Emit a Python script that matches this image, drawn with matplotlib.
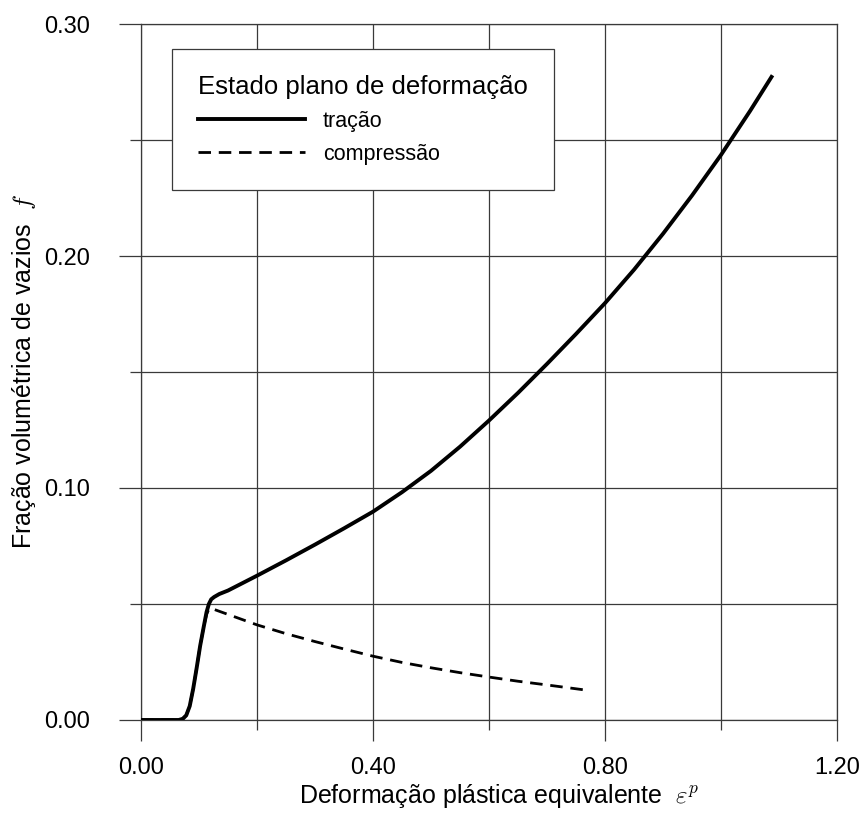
import numpy as np
import matplotlib
matplotlib.use("Agg")
import matplotlib.pyplot as plt
from matplotlib.ticker import MultipleLocator, FormatStrFormatter

plt.rcParams['font.family'] = ['Liberation Sans', 'DejaVu Sans']
plt.rcParams['mathtext.fontset'] = 'cm'

# tração (solid curve)
tracao_x = [0.0, 0.065, 0.072, 0.078, 0.084, 0.090, 0.096, 0.102, 0.108, 0.113,
            0.117, 0.121, 0.126, 0.135, 0.15, 0.2, 0.25, 0.3, 0.35, 0.4, 0.45,
            0.5, 0.55, 0.6, 0.65, 0.7, 0.75, 0.8, 0.85, 0.9, 0.95, 1.0, 1.05, 1.087]
tracao_y = [0.0, 0.0, 0.0005, 0.002, 0.006, 0.0135, 0.0225, 0.032, 0.040, 0.0465,
            0.050, 0.052, 0.053, 0.0543, 0.0558, 0.0622, 0.0688, 0.0756, 0.0826,
            0.0898, 0.0982, 0.1074, 0.1178, 0.1291, 0.1410, 0.1535, 0.1664, 0.1797,
            0.1941, 0.2096, 0.2261, 0.2436, 0.2625, 0.2772]

# compressão (dashed curve)
compressao_x = [0.0, 0.065, 0.072, 0.078, 0.084, 0.090, 0.096, 0.102, 0.108, 0.113,
                0.117, 0.12, 0.15, 0.2, 0.25, 0.3, 0.35, 0.4, 0.45, 0.5, 0.55,
                0.6, 0.65, 0.7, 0.7695]
compressao_y = [0.0, 0.0, 0.0005, 0.002, 0.006, 0.0135, 0.0225, 0.032, 0.040, 0.0455,
                0.0478, 0.0482, 0.0455, 0.041, 0.0372, 0.0338, 0.0306, 0.0275, 0.0248,
                0.0225, 0.0204, 0.0185, 0.0167, 0.0151, 0.0128]

fig = plt.figure(figsize=(8.64, 8.14), dpi=100)
ax = fig.add_axes([0.1632, 0.1155, 0.8056, 0.855])

ax.plot(tracao_x, tracao_y, color='black', lw=2.8, label='tração', zorder=3)
ax.plot(compressao_x, compressao_y, color='black', lw=2.0, dashes=(4.5, 2.8),
        label='compressão', zorder=3)

ax.set_xlim(0, 1.2)
ax.set_ylim(0, 0.30)
ax.xaxis.set_major_locator(MultipleLocator(0.4))
ax.xaxis.set_minor_locator(MultipleLocator(0.2))
ax.yaxis.set_major_locator(MultipleLocator(0.1))
ax.yaxis.set_minor_locator(MultipleLocator(0.05))
ax.xaxis.set_major_formatter(FormatStrFormatter('%.2f'))
ax.yaxis.set_major_formatter(FormatStrFormatter('%.2f'))

gc = '#3a3a3a'
ax.grid(True, which='both', color=gc, lw=0.9, zorder=1)
for s in ax.spines.values():
    s.set_color(gc)
    s.set_linewidth(0.9)
ax.tick_params(which='both', direction='out', color=gc, width=0.9, labelsize=17)
ax.tick_params(axis='x', which='major', length=15, pad=12)
ax.tick_params(axis='x', which='minor', length=7)
ax.tick_params(axis='y', which='major', length=16, pad=21)
ax.tick_params(axis='y', which='minor', length=8)

ax.set_xlabel(r'Deformação plástica equivalente  $\varepsilon^p$', fontsize=18, labelpad=2)
ax.xaxis.label.set_x(0.515)
ax.set_ylabel(r'Fração volumétrica de vazios  $f$', fontsize=18, labelpad=4)

leg = ax.legend(loc='upper left', bbox_to_anchor=(0.0445, 0.964),
                title='Estado plano de deformação', title_fontsize=18.5, fontsize=15.5,
                alignment='left', fancybox=False, framealpha=1, edgecolor=gc,
                borderpad=1.2, handlelength=5.0, handletextpad=0.8,
                labelspacing=0.55, borderaxespad=0)
leg.get_frame().set_linewidth(0.9)

fig.savefig('out.png', dpi=100)
